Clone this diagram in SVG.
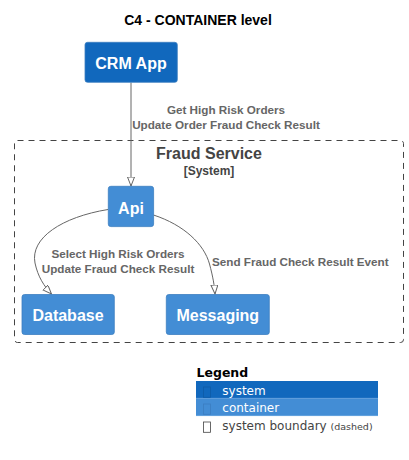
<svg xmlns="http://www.w3.org/2000/svg" width="409" height="460" viewBox="0 0 409 460">
<defs>
<marker id="arr" markerWidth="10" markerHeight="8" refX="9" refY="3.5" orient="auto" markerUnits="userSpaceOnUse">
<path d="M0,0 L9,3.5 L0,7 Z" fill="#ffffff" stroke="#666666" stroke-width="1"/>
</marker>
<style>
.title{font-family:"Liberation Sans",Arial,sans-serif;font-weight:bold;font-size:14px;fill:#000}
.node{stroke:#3C7FC0;stroke-width:0.8}
.sys{fill:#1168BD}
.cont{fill:#438DD5}
.ntext{font-family:"Liberation Sans",Arial,sans-serif;font-weight:bold;font-size:16px;fill:#fff;text-anchor:middle}
.btitle{font-family:"Liberation Sans",Arial,sans-serif;font-weight:bold;font-size:16px;fill:#444;text-anchor:middle}
.bsub{font-family:"Liberation Sans",Arial,sans-serif;font-weight:bold;font-size:12px;fill:#444;text-anchor:middle}
.elabel{font-family:"Liberation Sans",Arial,sans-serif;font-weight:bold;font-size:11.7px;fill:#666}
.edge{fill:none;stroke:#666;stroke-width:1;marker-end:url(#arr)}
.leg{font-family:"DejaVu Sans",Verdana,sans-serif;font-size:12px}
</style>
</defs>
<rect width="409" height="460" fill="#fff"/>
<text class="title" x="198" y="25" text-anchor="middle">C4 - CONTAINER level</text>

<g id="boundary-fraud-service">
<rect x="14.5" y="140.5" width="389" height="202" rx="3" fill="none" stroke="#444" stroke-width="1" stroke-dasharray="6,5"/>
<text class="btitle" x="209" y="159">Fraud Service</text>
<text class="bsub" x="209" y="174.5">[System]</text>
</g>

<g id="connectors">
<path class="edge" d="M131,82.5 L131,186"/>
<text class="elabel" x="226" y="114" text-anchor="middle">Get High Risk Orders</text>
<text class="elabel" x="226" y="129" text-anchor="middle">Update Order Fraud Check Result</text>
<path class="edge" d="M108,209.5 C62,217 30,238 35,263 C38,277 44,286 51.5,294"/>
<text class="elabel" x="118" y="257.5" text-anchor="middle">Select High Risk Orders</text>
<text class="elabel" x="118" y="272.5" text-anchor="middle">Update Fraud Check Result</text>
<path class="edge" d="M153.5,215 C184,225 204,244 209.5,264 C213,277 214.5,286 215,294"/>
<text class="elabel" x="212" y="265.5">Send Fraud Check Result Event</text>
</g>

<g id="crm-app">
<rect class="node sys" x="85" y="42.3" width="92.3" height="40" rx="2.5"/>
<text class="ntext" x="131" y="69">CRM App</text>
</g>
<g id="api">
<rect class="node cont" x="108.3" y="186.3" width="45.3" height="40.3" rx="2.5"/>
<text class="ntext" x="131" y="213.5">Api</text>
</g>
<g id="database">
<rect class="node cont" x="22" y="294.5" width="92.3" height="40" rx="2.5"/>
<text class="ntext" x="68" y="321">Database</text>
</g>
<g id="messaging">
<rect class="node cont" x="166.3" y="294.5" width="103" height="40" rx="2.5"/>
<text class="ntext" x="217.8" y="321">Messaging</text>
</g>

<g id="legend">
<text x="196.5" y="377" font-family="'DejaVu Sans',Verdana,sans-serif" font-weight="bold" font-size="12.5" fill="#000">Legend</text>
<rect x="196" y="381" width="182" height="17.3" fill="#1168BD"/>
<rect x="196" y="398.3" width="182" height="17.7" fill="#438DD5"/>
<line x1="196" y1="398.3" x2="378" y2="398.3" stroke="#5A9BDC" stroke-width="0.8"/>
<line x1="196" y1="415.6" x2="378" y2="415.6" stroke="#6FA8E0" stroke-width="0.8"/>
<rect x="203.5" y="387" width="7" height="10.3" fill="none" stroke="#0E5BA6" stroke-width="0.8"/>
<rect x="203.5" y="404" width="7" height="10.3" fill="none" stroke="#3B7DC0" stroke-width="0.8"/>
<rect x="203.5" y="422" width="7" height="10.3" fill="none" stroke="#444" stroke-width="0.8"/>
<text class="leg" x="222.3" y="395" fill="#fff">system</text>
<text class="leg" x="222.3" y="412" fill="#fff">container</text>
<text class="leg" x="222.3" y="430" fill="#444">system boundary <tspan font-size="9.5">(dashed)</tspan></text>
</g>
</svg>
